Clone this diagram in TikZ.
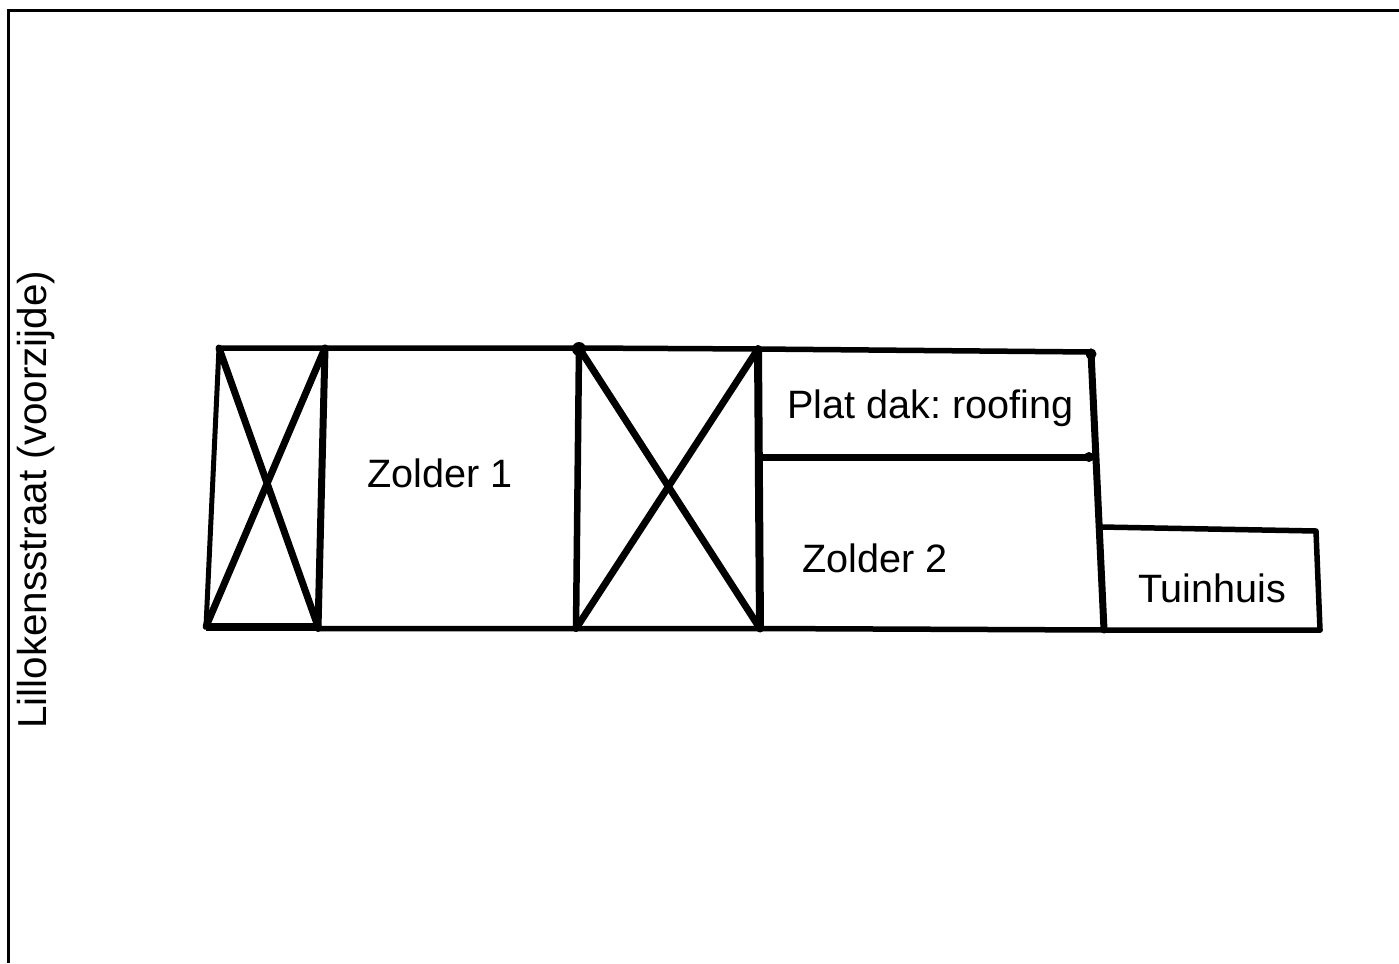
\documentclass[tikz,border=0pt]{standalone}
\usepackage{fontspec}
\setmainfont{Liberation Sans}
\frenchspacing
\usetikzlibrary{calc, positioning}

\begin{document}
\begin{tikzpicture}[x=1pt, y=-1pt,
  ele/.style={fill=black, circle, minimum width=.3pt, inner sep=0pt},
  lbl/.style={anchor=base west, inner sep=0pt, font=\fontsize{39.6}{42}\selectfont},
  wall/.style={line width=5.5pt, line cap=round, line join=round}]
  \useasboundingbox (0,0) rectangle (1399,963);

  \coordinate (a1) at (219,348);
  \coordinate (a2) at (325,348);
  \coordinate (a3) at (579,348);
  \coordinate (a4) at (758,349);
  \coordinate (a5) at (1091,352);

  \coordinate (b1) at (206,626.5);
  \coordinate (b2) at (318,626.5);
  \coordinate (b3) at (576,628.5);
  \coordinate (b4) at (760,628.5);
  \coordinate (b5) at (1104,630);
  \coordinate (b6) at (1320,630);

  \coordinate (c1) at (760,457);
  \coordinate (c2) at (1090,457);
  \coordinate (t1) at (1101,527);
  \coordinate (t2) at (1316,531);

  % frame
  \draw[line width=3.6pt] (8.5,963) -- (8.5,10.7) -- (1399,10.7);

  % outline
  \draw[wall] (a1) -- (a2) -- (a3) -- (a4) -- (a5);
  \draw[wall, line width=5pt] (a1) -- (b1);
  \draw[wall, line width=8pt, line cap=butt] (b1) -- (b2);
  \draw[wall] (318,628.5) -- (b3) -- (b4) -- (b5) -- (b6);

  % walls
  \draw[wall, line width=7pt] (a2) -- (318,628.5);
  \draw[wall, line width=6.5pt] (a3) -- (b3);
  \draw[wall, line width=8pt] (a4) -- (b4);
  \draw[wall, line width=7pt] (a5) -- (b5);
  \draw[wall, line width=7pt] (c1) -- (c2);
  \draw[wall] (t1) -- (t2) -- (b6);

  % crosses
  \draw[wall, line width=7pt] (a1) -- (b2);
  \draw[wall, line width=7pt] (a2) -- (b1);
  \draw[wall, line width=7pt] (a3) -- (b4);
  \draw[wall, line width=7pt] (a4) -- (b3);

  % dots
  \node[ele, minimum size=14pt] (d1) at (579,349) {};
  \node[ele, minimum size=11pt] (d2) at (1091,354) {};
  \node[ele, minimum size=10pt] (d3) at (1089,457) {};

  \node[lbl] (zolder1) at (367,487) {Zolder 1};
  \node[lbl] (zolder2) at (802,572) {Zolder 2};
  \node[lbl] (plat) at (787,418) {Plat dak: roofing};
  \node[lbl] (tuin) at (1138,602) {Tuinhuis};
  \node[lbl, rotate=90, font=\fontsize{40.4}{42}\selectfont] (straat) at (46.5,729) {Lillokensstraat (voorzijde)};
\end{tikzpicture}
\end{document}
